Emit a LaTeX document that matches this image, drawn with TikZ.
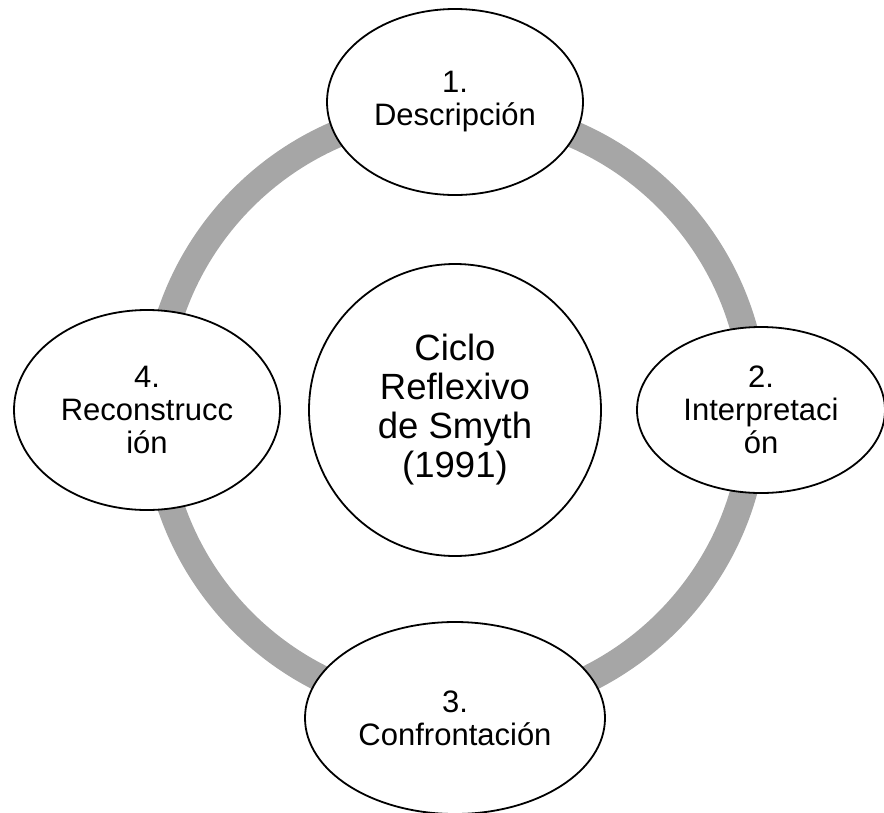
\documentclass[tikz,border=0pt]{standalone}
\usepackage{fontspec}
\setmainfont{Liberation Sans}
\usetikzlibrary{shapes.geometric}
\definecolor{anillo}{HTML}{A6A6A6}

\begin{document}
\begin{tikzpicture}[x=1pt,y=-1pt,
  etapa/.style={draw,line width=1.8pt,fill=white,ellipse,inner sep=0pt,align=center,font=\fontsize{31}{33}\selectfont},
  centro/.style={draw,line width=1.8pt,fill=white,circle,inner sep=0pt,minimum size=292pt,align=center,font=\fontsize{36.5}{39}\selectfont}]
\useasboundingbox (0,0) rectangle (884,812);
\coordinate (o) at (455,410);
\draw[line width=27pt,anillo] (o) circle (300);
\node[centro] (ciclo) at (o) {Ciclo\\Reflexivo\\de Smyth\\(1991)};
\node[etapa,minimum width=256pt,minimum height=186pt] (desc) at (455,102) {1.\\Descripción};
\node[etapa,minimum width=248pt,minimum height=166pt] (interp) at (761,410) {2.\\Interpretaci\\ón};
\node[etapa,minimum width=300pt,minimum height=192pt] (confr) at (455,718) {3.\\Confrontación};
\node[etapa,minimum width=266pt,minimum height=200pt] (recon) at (147,410) {4.\\Reconstrucc\\ión};
\end{tikzpicture}
\end{document}
